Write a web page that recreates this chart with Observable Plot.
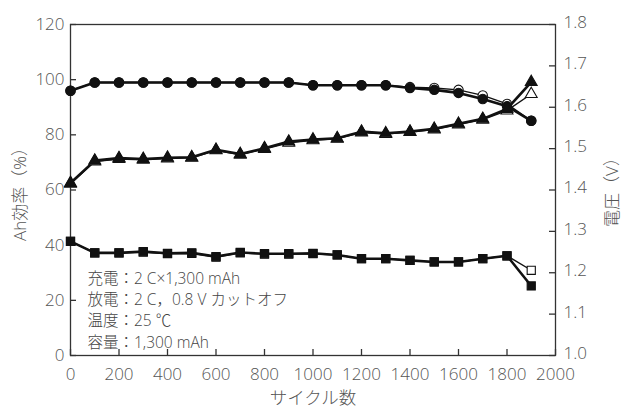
<!DOCTYPE html>
<html>
<head>
<meta charset="utf-8">
<script src="https://cdn.jsdelivr.net/npm/d3@7"></script>
<script src="https://cdn.jsdelivr.net/npm/@observablehq/plot@0.6"></script>
<style>
  body { margin: 0; background: #fff; }
</style>
</head>
<body>
<div id="chart"></div>
<script>
const cycles = [0,100,200,300,400,500,600,700,800,900,1000,1100,1200,1300,1400,1500,1600,1700,1800,1900];
// Ah efficiency (%)
const effFilled = [96,99,99,99,99,99,99,99,99,99,98,98,98,98,97,96.3,95.2,93,90.4,85.1];
const effOpen   = [96,99,99,99,99,99,99,99,99,99,98,98,98,98,97.3,97,96.3,94.3,91.2,85.1];
// Voltage (V) — triangles
const triFilled = [1.417,1.471,1.477,1.475,1.478,1.479,1.497,1.487,1.501,1.517,1.522,1.525,1.541,1.537,1.541,1.548,1.560,1.572,1.596,1.661];
const triOpen   = [1.415,1.469,1.475,1.473,1.476,1.478,1.496,1.485,1.499,1.514,1.520,1.524,1.539,1.535,1.540,1.546,1.558,1.570,1.592,1.632];
// Voltage (V) — squares
const sqFilled = [1.276,1.248,1.248,1.251,1.247,1.248,1.239,1.249,1.246,1.246,1.247,1.243,1.234,1.234,1.230,1.226,1.226,1.234,1.241,1.168];
const sqOpen   = [1.276,1.248,1.248,1.250,1.246,1.247,1.238,1.248,1.245,1.245,1.246,1.243,1.234,1.234,1.230,1.226,1.226,1.234,1.241,1.206];

const xTicks = [0,200,400,600,800,1000,1200,1400,1600,1800,2000];
const leftTicks = [0,20,40,60,80,100,120];
const rightTicks = [1.0,1.1,1.2,1.3,1.4,1.5,1.6,1.7,1.8];
const notes = ["充電：2 C×1,300 mAh", "放電：2 C，0.8 V カットオフ", "温度：25 ℃", "容量：1,300 mAh"];
const xTitle = "サイクル数";
const leftTitle = "Ah効率（%）";
const rightTitle = "電圧（V）";

// map voltage to the left (%) scale: 1.0 V ↔ 0 %, 1.8 V ↔ 120 %
const vMin = 1.0, vMax = 1.8, pMax = 120;
const v2p = v => (v - vMin) / (vMax - vMin) * pMax;

const mk = (ys, conv) => cycles.map((c, i) => ({x: c, y: conv ? v2p(ys[i]) : ys[i]}));

const series = [
  {data: mk(effOpen), symbol: "circle", fill: "white", lw: 1.4},
  {data: mk(triOpen, true), symbol: "triangle", fill: "white", lw: 1.4},
  {data: mk(sqOpen, true), symbol: "square", fill: "white", lw: 1.4},
  {data: mk(effFilled), symbol: "circle", fill: "#111", lw: 2.6},
  {data: mk(triFilled, true), symbol: "triangle", fill: "#111", lw: 2.6},
  {data: mk(sqFilled, true), symbol: "square", fill: "#111", lw: 2.6}
];

const W = 625, H = 414, ML = 70, MR = 70, MT = 24, MB = 59;
const FW = W - ML - MR, FH = H - MT - MB, TK = 6;
const font = "'Open Sans', 'Noto Sans CJK JP', sans-serif";
const txt = "#555";

const marks = [];
for (const s of series) {
  marks.push(Plot.lineY(s.data, {x: "x", y: "y", stroke: "#111", strokeWidth: s.lw}));
}
for (const s of series) {
  const r = s.symbol === "circle" ? 4.7 : s.symbol === "triangle" ? 4.4 : 4.6;
  marks.push(Plot.dot(s.data, {x: "x", y: "y", symbol: s.symbol, r, fill: s.fill, stroke: "#111", strokeWidth: 1.1}));
}

const tickStyle = {fontSize: 17, fontWeight: 300, fill: txt, tickSize: 0};

const chart = Plot.plot({
  width: W,
  height: H,
  marginLeft: ML,
  marginRight: MR,
  marginTop: MT,
  marginBottom: MB,
  style: {fontFamily: font, fontSize: "15px", color: txt, background: "white"},
  x: {domain: [0, 2000]},
  y: {domain: [0, 120]},
  marks: [
    Plot.frame({stroke: "#333", strokeWidth: 1.3}),
    // inward ticks
    Plot.tickX(xTicks, {x: d => d, insetTop: FH - TK, stroke: "#333", strokeWidth: 1.3}),
    Plot.tickY(leftTicks, {y: d => d, insetRight: FW - TK, stroke: "#333", strokeWidth: 1.3}),
    Plot.tickY(rightTicks.map(v2p), {y: d => d, insetLeft: FW - TK, stroke: "#333", strokeWidth: 1.3}),
    Plot.axisX(xTicks, {anchor: "bottom", ...tickStyle, tickPadding: 12, tickFormat: d => String(d), label: null}),
    Plot.axisY(leftTicks, {anchor: "left", ...tickStyle, tickPadding: 6, label: null}),
    Plot.axisY(rightTicks.map(v2p), {anchor: "right", ...tickStyle, tickPadding: 8, dy: -2, tickFormat: d => (vMin + d / pMax * (vMax - vMin)).toFixed(1), label: null}),
    // axis titles
    Plot.text([xTitle], {frameAnchor: "bottom", textAnchor: "middle", lineAnchor: "middle", dy: 43, fontSize: 17.5, fontWeight: 300, fill: txt}),
    Plot.text([leftTitle], {frameAnchor: "left", textAnchor: "middle", dx: -50, rotate: -90, fontSize: 17, fontWeight: 300, fill: txt}),
    Plot.text([rightTitle], {frameAnchor: "right", textAnchor: "middle", dx: 57, dy: -2, rotate: -90, fontSize: 17, fontWeight: 300, fill: txt}),
    ...marks,
    Plot.text([notes.join("\n")], {frameAnchor: "bottom-left", dx: 17, dy: -8, lineAnchor: "bottom", lineHeight: 1.36, textAnchor: "start", fontSize: 15.5, fontWeight: 300, fill: "#444"})
  ]
});
document.getElementById("chart").appendChild(chart);
</script>
</body>
</html>
